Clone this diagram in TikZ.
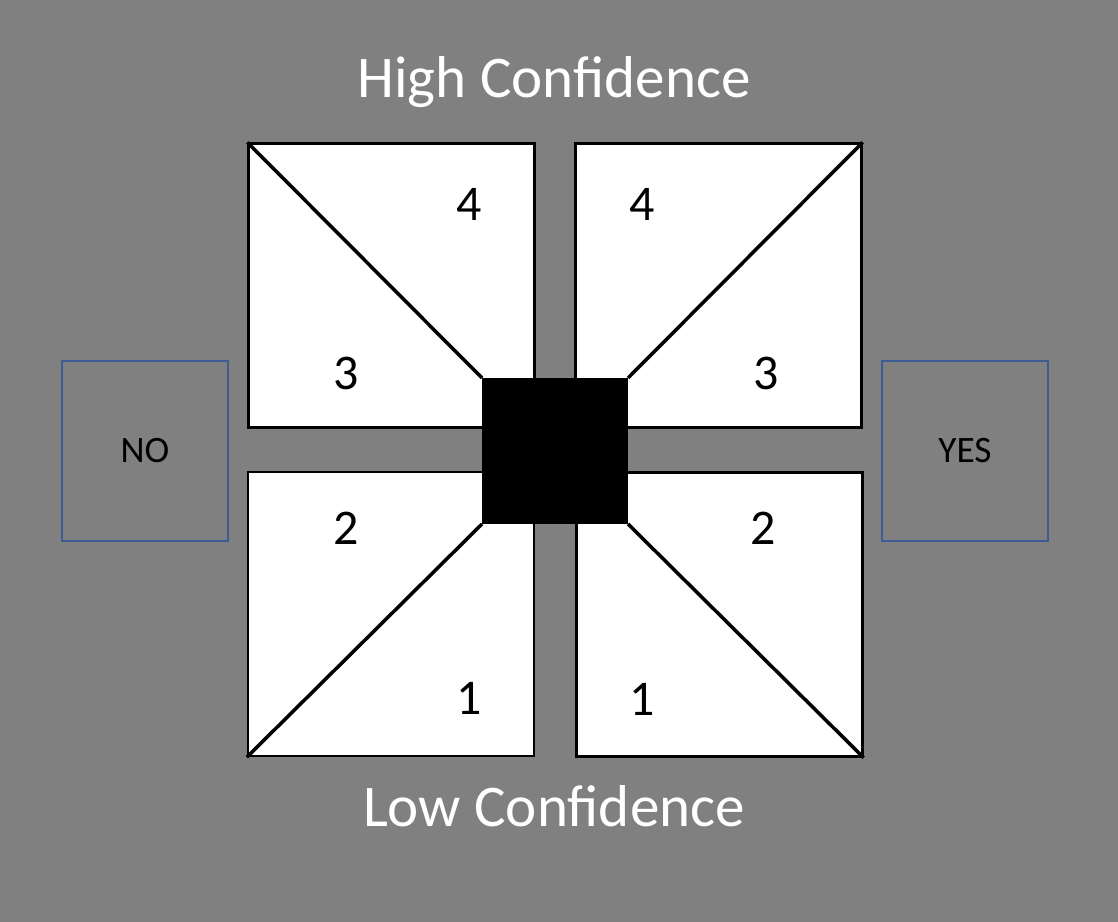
\documentclass[tikz,border=0pt]{standalone}
\usepackage{fontspec}
\setmainfont{Carlito}
\definecolor{bggray}{RGB}{128,128,128}
\definecolor{boxblue}{RGB}{62,92,148}

\begin{document}
\begin{tikzpicture}[x=0.01cm, y=-0.01cm, line width=0.65pt,
    quad/.style={draw=black, fill=white, inner sep=0pt, minimum width=2.86cm, minimum height=2.84cm},
    core/.style={fill=black, inner sep=0pt, minimum size=1.46cm},
    answer/.style={draw=boxblue, line width=0.6pt, inner sep=0pt, minimum width=1.66cm, minimum height=1.80cm, font=\fontsize{10.6}{12}\selectfont},
    score/.style={inner sep=0pt, font=\fontsize{14.2}{16}\selectfont},
    heading/.style={text=white, anchor=base, inner sep=0pt, font=\fontsize{16.8}{20}\selectfont},
    diag/.style={line width=1pt}]

    % === background ===
    \fill[bggray] (0,0) rectangle (1118,922);
    \useasboundingbox (0,0) rectangle (1118,922);

    % === quadrants ===
    \node[quad] (tl) at (391.5,285.5) {};
    \node[quad] (tr) at (718.5,285.5) {};
    \node[quad] (bl) at (391,614) {};
    \node[quad] (br) at (719.5,614.5) {};

    % === centre block (placed first as coordinates) ===
    \coordinate (cnw) at (482,378);
    \coordinate (cne) at (628,378);
    \coordinate (csw) at (482,524);
    \coordinate (cse) at (628,524);

    % === diagonals ===
    \draw[diag] (tl.north west) -- (cnw);
    \draw[diag] (tr.north east) -- (cne);
    \draw[diag] (bl.south west) -- (csw);
    \draw[diag] (br.south east) -- (cse);

    \node[core] (core) at (555,451) {};

    % === scores ===
    \node[score] (tl4) at (469,204) {4};
    \node[score] (tl3) at (346,373) {3};
    \node[score] (tr4) at (642,204) {4};
    \node[score] (tr3) at (766,373) {3};
    \node[score] (bl2) at (346,528) {2};
    \node[score] (bl1) at (469,698) {1};
    \node[score] (br2) at (763,528) {2};
    \node[score] (br1) at (642,699) {1};

    % === answer boxes ===
    \node[answer] (no) at (145,451) {NO};
    \node[answer] (yes) at (965,451) {YES};

    % === headings ===
    \node[heading] (high) at (554,98) {High Confidence};
    \node[heading] (low) at (554,827) {Low Confidence};

\end{tikzpicture}
\end{document}
